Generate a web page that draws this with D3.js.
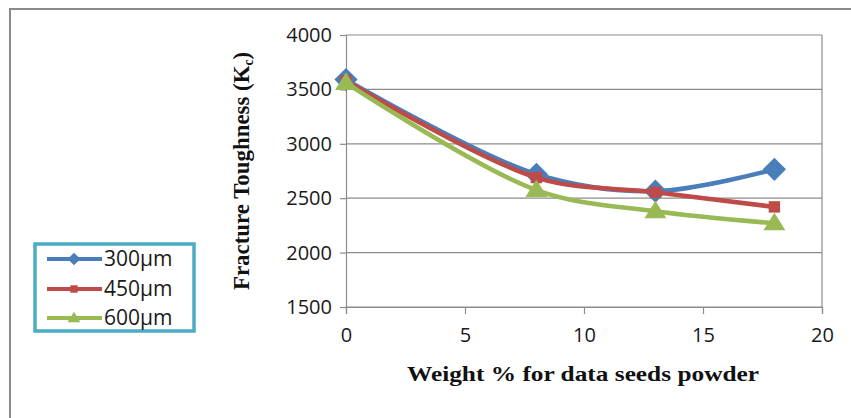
<!DOCTYPE html>
<html>
<head>
<meta charset="utf-8">
<script src="https://cdn.jsdelivr.net/npm/d3@7"></script>
<style>
  body { margin: 0; background: #fff; }
  svg { display: block; }
</style>
</head>
<body>
<div id="chart"></div>
<script>
const width = 851;
const height = 418;

// weight % of data seeds powder
const weights = [0, 8, 13, 18];

// fracture toughness per particle size
const series300 = [3590, 2720, 2565, 2765];
const series450 = [3580, 2690, 2555, 2420];
const series600 = [3560, 2575, 2380, 2270];

const seriesNames = ['300µm', '450µm', '600µm'];
const seriesColors = ['#4a7ebb', '#be4b48', '#98b954'];

const xTicks = [0, 5, 10, 15, 20];
const yTicks = [1500, 2000, 2500, 3000, 3500, 4000];

// Excel-ish markers: square diamond, small square, wide triangle
const diamond = {
  draw(ctx, size) {
    const r = Math.sqrt(size / 2);
    ctx.moveTo(0, -r); ctx.lineTo(r, 0); ctx.lineTo(0, r); ctx.lineTo(-r, 0); ctx.closePath();
  }
};
const wideTriangle = {
  draw(ctx, size) {
    const w = Math.sqrt(size * 2.4);
    const h = w * 0.8;
    ctx.moveTo(0, -h * 0.6); ctx.lineTo(w / 2, h * 0.4); ctx.lineTo(-w / 2, h * 0.4); ctx.closePath();
  }
};
const seriesShapes = [diamond, d3.symbolSquare, wideTriangle];
const markerSizes = [270, 130, 200];
const legendSizes = [80, 55, 70];

const xScale = d3.scaleLinear()
  .domain([0, 20])
  .range([346, 822]);

const yScale = d3.scaleLinear()
  .domain([1500, 4000])
  .range([307, 35]);

const svg = d3.select('#chart').append('svg')
  .attr('width', width)
  .attr('height', height);

// outer chart frame
svg.append('path')
  .attr('d', `M10,${height} V9 H${width}`)
  .attr('fill', 'none')
  .attr('stroke', '#8a8a8a')
  .attr('stroke-width', 2);

// gridlines
svg.append('g')
  .selectAll('line')
  .data(yTicks)
  .join('line')
  .attr('x1', xScale(0))
  .attr('x2', xScale(20))
  .attr('y1', d => yScale(d))
  .attr('y2', d => yScale(d))
  .attr('stroke', '#8c8c8c')
  .attr('stroke-width', 1.2);

// right border of plot area
svg.append('line')
  .attr('x1', xScale(20)).attr('x2', xScale(20))
  .attr('y1', yScale(4000)).attr('y2', yScale(1500))
  .attr('stroke', '#8c8c8c')
  .attr('stroke-width', 1.2);

const tickFont = '"Open Sans", sans-serif';

const xAxis = d3.axisBottom(xScale)
  .tickValues(xTicks)
  .tickSize(7)
  .tickPadding(14)
  .tickFormat(d3.format('d'));

const yAxis = d3.axisLeft(yScale)
  .tickValues(yTicks)
  .tickSize(6)
  .tickPadding(8)
  .tickFormat(d3.format('d'));

const gx = svg.append('g')
  .attr('transform', `translate(0, ${yScale(1500)})`)
  .call(xAxis);

const gy = svg.append('g')
  .attr('transform', `translate(${xScale(0)}, 0)`)
  .call(yAxis);

[gx, gy].forEach(g => {
  g.select('.domain').attr('stroke', '#8c8c8c').attr('stroke-width', 1.2);
  g.selectAll('.tick line').attr('stroke', '#8c8c8c').attr('stroke-width', 1.2);
  g.selectAll('.tick text')
    .attr('fill', '#1a1a1a')
    .style('font-family', tickFont)
    .style('font-size', '20px');
});

// axis titles
svg.append('text')
  .attr('x', 583)
  .attr('y', 381)
  .attr('text-anchor', 'middle')
  .attr('textLength', 352)
  .attr('lengthAdjust', 'spacingAndGlyphs')
  .style('font-family', '"Liberation Serif", serif')
  .style('font-weight', 'bold')
  .style('font-size', '22px')
  .attr('fill', '#111')
  .text('Weight % for data seeds powder');

const yTitle = svg.append('text')
  .attr('transform', 'translate(249, 171) rotate(-90)')
  .attr('text-anchor', 'middle')
  .attr('textLength', 238)
  .attr('lengthAdjust', 'spacingAndGlyphs')
  .style('font-family', '"Liberation Serif", serif')
  .style('font-weight', 'bold')
  .style('font-size', '24px')
  .attr('fill', '#111');
yTitle.append('tspan').text('Fracture Toughness (K');
yTitle.append('tspan').attr('dy', 4).style('font-size', '14px').text('c');
yTitle.append('tspan').attr('dy', -4).text(')');

// series
const allSeries = [series300, series450, series600];

const line = d3.line()
  .x((d, i) => xScale(weights[i]))
  .y(d => yScale(d))
  .curve(d3.curveCatmullRom.alpha(0.5));

allSeries.forEach((values, s) => {
  svg.append('path')
    .attr('d', line(values))
    .attr('fill', 'none')
    .attr('stroke', seriesColors[s])
    .attr('stroke-width', 4.5)
    .attr('stroke-linejoin', 'round');

  svg.append('g')
    .selectAll('path')
    .data(values)
    .join('path')
    .attr('transform', (d, i) => `translate(${xScale(weights[i])}, ${yScale(d)})`)
    .attr('d', d3.symbol().type(seriesShapes[s]).size(markerSizes[s]))
    .attr('fill', seriesColors[s]);
});

// legend
const legend = svg.append('g');

legend.append('rect')
  .attr('x', 35)
  .attr('y', 244)
  .attr('width', 159)
  .attr('height', 87)
  .attr('fill', '#fff')
  .attr('stroke', '#4bacc6')
  .attr('stroke-width', 3.5);

const legendRows = [259, 289, 318];

seriesNames.forEach((name, s) => {
  legend.append('line')
    .attr('x1', 47).attr('x2', 102)
    .attr('y1', legendRows[s]).attr('y2', legendRows[s])
    .attr('stroke', seriesColors[s])
    .attr('stroke-width', 4);

  legend.append('path')
    .attr('transform', `translate(74, ${legendRows[s]})`)
    .attr('d', d3.symbol().type(seriesShapes[s]).size(legendSizes[s]))
    .attr('fill', seriesColors[s]);

  legend.append('text')
    .attr('x', 104)
    .attr('y', legendRows[s] + 7)
    .style('font-family', tickFont)
    .style('font-size', '21px')
    .attr('fill', '#1a1a1a')
    .text(name);
});
</script>
</body>
</html>
